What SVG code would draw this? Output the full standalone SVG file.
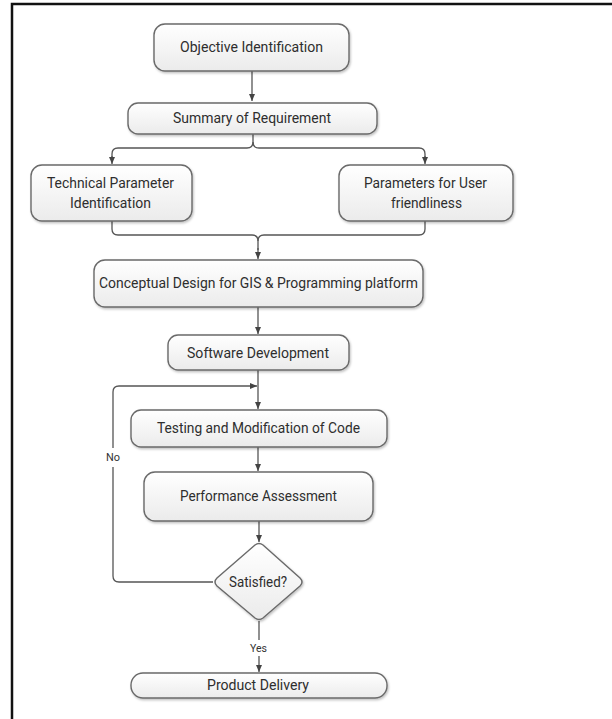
<svg xmlns="http://www.w3.org/2000/svg" width="612" height="719" viewBox="0 0 612 719">
<style>
.box{fill:url(#g);stroke:#6a6a6a;stroke-width:1.4;filter:url(#sh)}
.t{font-family:Roboto,"Noto Sans",sans-serif;font-size:15px;fill:#2e2e2e;text-anchor:middle;dominant-baseline:central}
.c{fill:none;stroke:#555;stroke-width:1.3}
.a{marker-end:url(#ar)}
.lbl{font-family:Roboto,"Noto Sans",sans-serif;font-size:11.5px;fill:#333;text-anchor:middle;dominant-baseline:central}
</style>
<defs>
<linearGradient id="g" x1="0" y1="0" x2="0" y2="1">
<stop offset="0" stop-color="#ffffff"/>
<stop offset="1" stop-color="#ebebeb"/>
</linearGradient>
<filter id="sh" x="-10%" y="-20%" width="120%" height="150%">
<feDropShadow dx="1" dy="1.5" stdDeviation="1.2" flood-color="#000" flood-opacity="0.25"/>
</filter>
<marker id="ar" markerWidth="8" markerHeight="8" refX="7" refY="4" orient="auto" markerUnits="userSpaceOnUse">
<path d="M0,1 L7,4 L0,7 Z" fill="#444"/>
</marker>
</defs>
<rect width="612" height="719" fill="#fff"/>
<rect x="12" y="4" width="640" height="760" fill="none" stroke="#111" stroke-width="2.5"/>
<g id="connectors">
<path class="c a" d="M252,71 V101"/>
<path class="c" d="M253,134 V142 Q253,148 247,148 H118 Q112,148 112,154 V158"/>
<path class="c a" d="M112,156 V164"/>
<path class="c" d="M253,142 Q253,148 259,148 H419 Q425,148 425,154 V158"/>
<path class="c a" d="M425,156 V164"/>
<path class="c" d="M112,221 V229 Q112,235 118,235 H252 Q258,235 258,241 V250"/>
<path class="c" d="M425,221 V229 Q425,235 419,235 H264 Q258,235 258,241"/>
<path class="c a" d="M258,248 V259"/>
<path class="c a" d="M258,307 V334"/>
<path class="c a" d="M258,370 V409"/>
<path class="c a" d="M113,448 V392 Q113,386 119,386 H257"/>
<path class="c" d="M213,582 H119 Q113,582 113,576 V467"/>
<path class="c a" d="M258,447 V471"/>
<path class="c a" d="M259,521 V542"/>
<path class="c" d="M259,621 V640"/>
<path class="c a" d="M259,656 V672"/>
<text class="lbl" x="113" y="457" textLength="14" lengthAdjust="spacingAndGlyphs">No</text>
<text class="lbl" x="258.5" y="648" textLength="17" lengthAdjust="spacingAndGlyphs">Yes</text>
</g>
<g id="n1"><rect class="box" x="154" y="24" width="195" height="47" rx="11"/><text class="t" x="251.5" y="47" textLength="143" lengthAdjust="spacingAndGlyphs">Objective Identification</text></g>
<g id="n2"><rect class="box" x="128" y="103" width="249" height="31" rx="10"/><text class="t" x="252" y="118" textLength="158" lengthAdjust="spacingAndGlyphs">Summary of Requirement</text></g>
<g id="n3"><rect class="box" x="31" y="165" width="161" height="56" rx="11"/><text class="t" x="110.5" y="183" textLength="127" lengthAdjust="spacingAndGlyphs">Technical Parameter</text><text class="t" x="110.5" y="203" textLength="81" lengthAdjust="spacingAndGlyphs">Identification</text></g>
<g id="n4"><rect class="box" x="339" y="165" width="174" height="56" rx="11"/><text class="t" x="425.5" y="183" textLength="123" lengthAdjust="spacingAndGlyphs">Parameters for User</text><text class="t" x="426.5" y="203" textLength="71" lengthAdjust="spacingAndGlyphs">friendliness</text></g>
<g id="n5"><rect class="box" x="94" y="260" width="329" height="47" rx="11"/><text class="t" x="258.5" y="283" textLength="319" lengthAdjust="spacingAndGlyphs">Conceptual Design for GIS &amp; Programming platform</text></g>
<g id="n6"><rect class="box" x="168" y="335" width="181" height="35" rx="10"/><text class="t" x="258" y="353" textLength="142" lengthAdjust="spacingAndGlyphs">Software Development</text></g>
<g id="n7"><rect class="box" x="131" y="410" width="256" height="37" rx="10"/><text class="t" x="258.5" y="428" textLength="203" lengthAdjust="spacingAndGlyphs">Testing and Modification of Code</text></g>
<g id="n8"><rect class="box" x="144" y="472" width="229" height="49" rx="11"/><text class="t" x="258.5" y="496" textLength="157" lengthAdjust="spacingAndGlyphs">Performance Assessment</text></g>
<g id="n9"><path class="box" d="M255,545 Q259,542 263,545 L300,578 Q304,582 300,586 L263,618 Q259,621 255,618 L217,586 Q213,582 217,578 Z"/><text class="t" x="258" y="582" textLength="58" lengthAdjust="spacingAndGlyphs">Satisfied?</text></g>
<g id="n10"><rect class="box" x="131" y="673" width="256" height="25" rx="12"/><text class="t" x="258" y="685" textLength="102" lengthAdjust="spacingAndGlyphs">Product Delivery</text></g>
</svg>
